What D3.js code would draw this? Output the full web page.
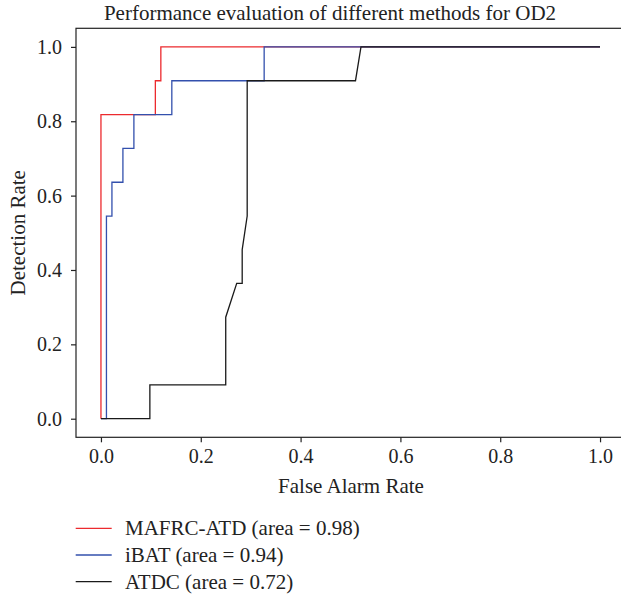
<!DOCTYPE html>
<html lang="en">
  <head>
    <meta charset="utf-8">
    <title>OD2 ROC</title>
    <style>
     body { margin: 0; background: #fff; }
     text { font-family: "Liberation Serif", "Times New Roman", serif; fill: #222; }
    </style>
  </head>
  <body>
    <div id="plot"></div>
  </body>
  <script src="https://cdn.jsdelivr.net/npm/d3@7"></script>
  <script>
   // ROC points
   var fprMafrc = [0, 0, 0.109, 0.109, 0.12, 0.12, 1],
       tprMafrc = [0, 0.818, 0.818, 0.909, 0.909, 1, 1];
   var fprIbat = [0, 0.011, 0.011, 0.022, 0.022, 0.044, 0.044, 0.066, 0.066, 0.142, 0.142, 0.327, 0.327, 1],
       tprIbat = [0, 0, 0.545, 0.545, 0.636, 0.636, 0.727, 0.727, 0.818, 0.818, 0.909, 0.909, 1, 1];
   var fprAtdc = [0, 0.098, 0.098, 0.25, 0.25, 0.272, 0.283, 0.283, 0.293, 0.293, 0.51, 0.521, 1],
       tprAtdc = [0, 0, 0.091, 0.091, 0.273, 0.364, 0.364, 0.455, 0.545, 0.909, 0.909, 1, 1];
   var labels = ["MAFRC-ATD (area = 0.98)", "iBAT (area = 0.94)", "ATDC (area = 0.72)"];
   var colors = ["#ec2a2e", "#3350ad", "#1a1a1a"];
   var tickVals = [0, 0.2, 0.4, 0.6, 0.8, 1.0];

   var W = 621, H = 596,
       pLeft = 76, pRight = 625, pTop = 28.3, pBottom = 437.3;

   var svg = d3.select("#plot").append("svg")
               .attr("width", W).attr("height", H);

   var x = d3.scaleLinear().domain([-0.05, 1.05]).range([pLeft, pRight]);
   var y = d3.scaleLinear().domain([-0.05, 1.05]).range([pBottom, pTop]);

   var series = [[fprMafrc, tprMafrc], [fprIbat, tprIbat], [fprAtdc, tprAtdc]];
   var line = d3.line().x(function(d) { return x(d[0]); }).y(function(d) { return y(d[1]); });

   series.forEach(function(s, i) {
     var pts = s[0].map(function(v, j) { return [v, s[1][j]]; });
     svg.append("path")
        .attr("d", line(pts))
        .attr("fill", "none")
        .attr("stroke", colors[i])
        .attr("stroke-width", 1.3);
   });

   // frame (right edge falls just outside the picture)
   svg.append("rect")
      .attr("x", pLeft).attr("y", pTop)
      .attr("width", pRight - pLeft).attr("height", pBottom - pTop)
      .attr("fill", "none").attr("stroke", "#222").attr("stroke-width", 1.2);

   var xAxis = svg.append("g")
                  .attr("transform", "translate(0," + pBottom + ")")
                  .call(d3.axisBottom(x).tickValues(tickVals).tickFormat(d3.format(".1f"))
                          .tickSize(5).tickSizeOuter(0).tickPadding(7));
   var yAxis = svg.append("g")
                  .attr("transform", "translate(" + pLeft + ",0)")
                  .call(d3.axisLeft(y).tickValues(tickVals).tickFormat(d3.format(".1f"))
                          .tickSize(5).tickSizeOuter(0).tickPadding(9));
   [xAxis, yAxis].forEach(function(a) {
     a.select(".domain").remove();
     a.selectAll("line").attr("stroke", "#222").attr("stroke-width", 1.2);
     a.selectAll("text").style("font-size", "20px").attr("fill", "#222");
   });

   svg.append("text")
      .attr("x", 330).attr("y", 20)
      .attr("text-anchor", "middle")
      .style("font-size", "21px")
      .text("Performance evaluation of different methods for OD2");

   svg.append("text")
      .attr("x", 351).attr("y", 493)
      .attr("text-anchor", "middle")
      .style("font-size", "21px")
      .text("False Alarm Rate");

   svg.append("text")
      .attr("transform", "translate(25," + ((pTop + pBottom) / 2) + ") rotate(-90)")
      .attr("text-anchor", "middle")
      .style("font-size", "21px")
      .text("Detection Rate");

   // legend under the plot
   var legend = svg.append("g");
   labels.forEach(function(lab, i) {
     var ly = 528.3 + i * 26.7;
     legend.append("line")
           .attr("x1", 75.7).attr("x2", 111.7)
           .attr("y1", ly).attr("y2", ly)
           .attr("stroke", colors[i]).attr("stroke-width", 1.3);
     legend.append("text")
           .attr("x", 125).attr("y", ly + 7)
           .style("font-size", "21px")
           .text(lab);
   });
  </script>
</html>
